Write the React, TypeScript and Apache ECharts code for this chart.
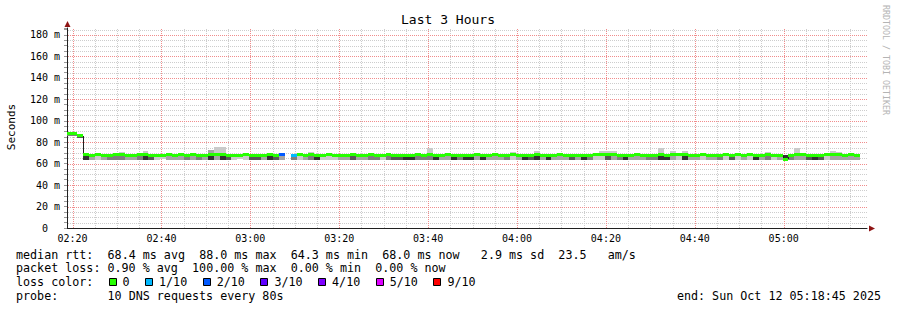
import React, { useEffect, useRef } from 'react';
import * as echarts from 'echarts';

// ---------------- data ----------------
const TITLE = 'Last 3 Hours';
const Y_NAME = 'Seconds';
const WATERMARK = 'RRDTOOL / TOBI OETIKER';

// x values are minutes after midnight
const X_START = 138.75; // 02:18:45
const X_END = 318.75; // 05:18:45
const FIRST_STEP_START = 138 + 25 / 60; // 02:18:25 (rrd step boundary)
const STEP_MINUTES = 80 / 60; // 80 s step
const Y_MAX = 186.5; // ms

const X_TICK_VALUES = [140, 160, 180, 200, 220, 240, 260, 280, 300];
const X_TICK_LABELS = ['02:20', '02:40', '03:00', '03:20', '03:40', '04:00', '04:20', '04:40', '05:00'];
const Y_TICK_VALUES = [0, 20, 40, 60, 80, 100, 120, 140, 160, 180];
const Y_TICK_LABELS = ['0', '20 m', '40 m', '60 m', '80 m', '100 m', '120 m', '140 m', '160 m', '180 m'];

// grid: vertical every 5 min (major every 20 min), horizontal every 5 ms (major every 20 ms)
const X_MINOR_GRID = [
  145, 150, 155, 165, 170, 175, 185, 190, 195, 205, 210, 215, 225, 230, 235, 245, 250, 255,
  265, 270, 275, 285, 290, 295, 305, 310, 315,
];
const X_MAJOR_GRID = [140, 160, 180, 200, 220, 240, 260, 280, 300];
const Y_MINOR_GRID = [
  5, 10, 15, 25, 30, 35, 45, 50, 55, 65, 70, 75, 85, 90, 95, 105, 110, 115,
  125, 130, 135, 145, 150, 155, 165, 170, 175, 185,
];
const Y_MAJOR_GRID = [20, 40, 60, 80, 100, 120, 140, 160, 180];

// median rtt per 80 s step (ms); null = no reply (100 % loss)
const MEDIAN: (number | null)[] = [
  88.0, 87.8, 85.8, 68.1, 68.0, 68.2, 68.0, 67.9, 68.1, 68.3,
  68.0, 67.9, 68.1, 68.2, 68.0, 68.0, 67.9, 68.1, 68.0, 68.2,
  68.0, 68.1, 67.9, 68.0, 68.3, 68.4, 68.2, 68.0, 67.9, 68.0,
  68.1, 68.0, 68.0, 67.9, 68.1, 68.0, 68.1, null, 68.0, 68.1,
  68.0, 68.2, 67.9, 68.0, 68.1, 68.0, 68.0, 67.9, 68.1, 68.0,
  68.0, 68.1, 67.9, 68.0, 68.1, 68.0, 67.9, 68.0, 67.9, 68.1,
  68.0, 68.3, 67.9, 68.0, 68.1, 67.9, 68.0, 67.9, 68.0, 68.1,
  67.9, 68.0, 68.1, 68.0, 68.0, 68.2, 68.0, 67.9, 68.0, 68.1,
  68.0, 67.9, 68.0, 68.1, 68.0, 67.9, 68.0, 67.9, 68.0, 68.1,
  68.2, 68.1, 68.2, 68.0, 67.9, 68.0, 68.1, 68.0, 68.0, 68.0,
  68.3, 68.0, 68.2, 68.1, 68.1, 68.0, 68.0, 68.1, 68.0, 68.0,
  67.9, 68.1, 67.9, 68.1, 68.0, 68.1, 67.9, 68.0, 68.2, 68.0,
  67.4, 64.3, 68.0, 68.3, 68.1, 67.9, 67.9, 68.0, 68.1, 68.2,
  68.1, 68.0, 68.1, 68.0,
];

// lost pings out of 10 per step
const LOSS = [
  0, 0, 0, 0, 0, 0, 0, 0, 0, 0,
  0, 0, 0, 0, 0, 0, 0, 0, 0, 0,
  0, 0, 0, 0, 0, 0, 0, 0, 0, 0,
  0, 0, 0, 0, 0, 0, 2, 10, 1, 0,
  0, 0, 0, 0, 0, 0, 0, 0, 0, 0,
  0, 0, 0, 0, 0, 0, 0, 0, 0, 0,
  0, 0, 0, 0, 0, 0, 0, 0, 0, 0,
  0, 0, 0, 0, 0, 0, 0, 0, 0, 0,
  0, 0, 0, 0, 0, 0, 0, 0, 0, 0,
  0, 0, 0, 0, 0, 0, 0, 0, 0, 0,
  0, 0, 0, 0, 0, 0, 0, 0, 0, 0,
  0, 0, 0, 0, 0, 0, 0, 0, 0, 0,
  0, 0, 0, 0, 0, 0, 0, 0, 0, 0,
  0, 0, 0, 0,
];

// fastest ping per step (ms)
const SMOKE_MIN: (number | null)[] = [
  85.6, 85.6, 83.9, 63.4, 63.6, 63.8, 63.5, 63.5, 63.4, 63.6,
  63.5, 63.7, 63.5, 63.3, 63.4, 63.8, 63.9, 63.6, 63.5, 63.6,
  63.5, 63.6, 63.5, 63.7, 63.4, 63.6, 63.3, 63.4, 63.8, 64.0,
  63.8, 63.4, 63.5, 63.6, 63.3, 63.5, 63.6, null, 63.5, 63.8,
  63.6, 63.5, 63.3, 63.7, 63.8, 63.8, 63.6, 63.5, 63.4, 63.6,
  63.5, 63.5, 63.4, 63.8, 63.5, 63.4, 63.5, 63.3, 63.4, 63.5,
  63.6, 63.5, 63.3, 63.6, 63.6, 63.3, 63.5, 63.4, 63.3, 63.6,
  63.4, 63.6, 63.5, 63.6, 63.5, 63.8, 63.6, 63.3, 63.4, 63.3,
  63.6, 63.4, 63.5, 63.6, 63.5, 63.4, 63.6, 63.3, 63.5, 63.8,
  63.8, 63.4, 63.6, 63.5, 63.3, 63.6, 63.5, 63.6, 63.5, 63.5,
  63.3, 63.4, 63.6, 63.8, 63.3, 63.5, 63.6, 63.8, 63.6, 63.5,
  63.5, 63.8, 63.4, 63.8, 63.6, 63.8, 63.3, 63.6, 63.5, 63.8,
  63.5, 63.2, 63.5, 63.6, 63.6, 63.4, 63.3, 63.4, 63.8, 63.6,
  63.6, 63.5, 63.6, 63.5,
];

// slowest ping per step (ms)
const SMOKE_MAX: (number | null)[] = [
  89.2, 89.0, 87.0, 68.8, 68.8, 68.8, 68.8, 68.8, 68.8, 71.0,
  68.8, 68.8, 68.8, 72.0, 68.8, 68.8, 68.8, 68.8, 68.8, 68.8,
  68.8, 68.8, 68.8, 68.8, 72.8, 75.6, 75.6, 68.8, 68.8, 68.8,
  68.8, 68.8, 68.8, 68.8, 68.8, 68.8, 68.8, null, 68.8, 68.8,
  68.8, 71.0, 68.8, 68.8, 68.8, 68.8, 68.8, 68.8, 68.8, 68.8,
  68.8, 68.8, 68.8, 68.8, 68.8, 68.8, 68.8, 68.8, 68.8, 68.8,
  68.8, 75.0, 68.8, 68.8, 68.8, 68.8, 68.8, 68.8, 68.8, 68.8,
  68.8, 68.8, 68.8, 68.8, 68.8, 71.0, 68.8, 68.8, 68.8, 72.0,
  68.8, 68.8, 68.8, 68.8, 68.8, 68.8, 68.8, 68.8, 68.8, 68.8,
  72.0, 72.0, 72.0, 68.8, 68.8, 68.8, 68.8, 68.8, 68.8, 68.8,
  74.6, 68.8, 72.0, 68.8, 72.0, 68.8, 68.8, 68.8, 68.8, 68.8,
  68.8, 68.8, 68.8, 68.8, 68.8, 68.8, 68.8, 68.8, 71.0, 68.8,
  68.8, 68.3, 68.8, 75.0, 68.8, 68.8, 68.8, 68.8, 68.8, 72.0,
  71.0, 68.8, 68.8, 68.8,
];

// how many pings lie clearly below / above the median (smoke density, 0..5)
const LOW_DENSITY = [
  3, 3, 4, 5, 2, 1, 2, 3, 3, 3,
  2, 2, 3, 5, 4, 1, 1, 2, 2, 2,
  3, 2, 3, 2, 5, 2, 5, 4, 1, 1,
  1, 4, 4, 2, 5, 4, 2, 0, 3, 1,
  2, 3, 5, 1, 1, 1, 2, 2, 4, 2,
  2, 3, 3, 1, 3, 4, 4, 5, 5, 3,
  3, 3, 5, 2, 2, 5, 3, 5, 5, 2,
  5, 2, 2, 2, 3, 1, 2, 5, 4, 5,
  2, 5, 2, 2, 2, 4, 2, 5, 3, 1,
  1, 4, 2, 3, 5, 2, 2, 2, 3, 3,
  5, 5, 2, 1, 5, 2, 2, 1, 2, 2,
  3, 1, 4, 1, 2, 1, 5, 2, 3, 1,
  2, 0, 3, 2, 2, 4, 5, 4, 1, 2,
  2, 2, 2, 2,
];
const HIGH_DENSITY = [
  1, 1, 1, 1, 1, 1, 1, 1, 1, 1,
  1, 1, 1, 1, 1, 1, 1, 1, 1, 1,
  1, 1, 1, 1, 2, 1, 1, 1, 1, 1,
  1, 1, 1, 1, 1, 1, 1, 0, 1, 1,
  1, 1, 1, 1, 1, 1, 1, 1, 1, 1,
  1, 1, 1, 1, 1, 1, 1, 1, 1, 1,
  1, 1, 1, 1, 1, 1, 1, 1, 1, 1,
  1, 1, 1, 1, 1, 1, 1, 1, 1, 1,
  1, 1, 1, 1, 1, 1, 1, 1, 1, 1,
  1, 1, 1, 1, 1, 1, 1, 1, 1, 1,
  1, 1, 1, 1, 1, 1, 1, 1, 1, 1,
  1, 1, 1, 1, 1, 1, 1, 1, 1, 1,
  1, 5, 1, 1, 1, 1, 1, 1, 1, 1,
  1, 1, 1, 1,
];

const LOSS_LEGEND = ['0', '1/10', '2/10', '3/10', '4/10', '5/10', '9/10'];
const LOSS_COLORS = ['#26ff00', '#00b8ff', '#0059ff', '#5e00ff', '#7e00ff', '#dd00ff', '#ff0000'];

const LEGEND_LINE_1 = 'median rtt:  68.4 ms avg  88.0 ms max  64.3 ms min  68.0 ms now   2.9 ms sd  23.5   am/s';
const LEGEND_LINE_2 = 'packet loss: 0.90 % avg  100.00 % max  0.00 % min  0.00 % now';
const LEGEND_LINE_3 = 'loss color:';
const LEGEND_LINE_4 = 'probe:       10 DNS requests every 80s';
const END_LABEL = 'end: Sun Oct 12 05:18:45 2025';

// ---------------- styling ----------------
const MONO = '"DejaVu Sans Mono", monospace';
const LEGEND_FS = 11.7;
const CHAR_W = LEGEND_FS * 0.602;
const LEGEND_X = 16;
const ROW_Y = [254.5, 268.3, 282.2, 296.0];
const MAJOR = '#f08c8c';
const MINOR = '#cdcdcd';
const ARROW = '#8f1414';
const SMOKE_SHADES = ['#ffffff', '#cacaca', '#a4a4a4', '#7e7e7e', '#585858', '#323232'];

const stepStart = (k: number) => FIRST_STEP_START + k * STEP_MINUTES;
const lossColor = (n: number) => LOSS_COLORS[n <= 4 ? n : n <= 8 ? 5 : 6];

function plainText(text: string, x: number, y: number, font: string, align: string, fill = '#000', rotation = 0) {
  return {
    type: 'text', x, y, rotation, silent: true,
    style: { text, font, fill, align, verticalAlign: 'middle', textAlign: align, textVerticalAlign: 'middle' },
  };
}

function textSegments(line: string, row: number) {
  const out: any[] = [];
  const re = /\S+(?: \S+)*/g;
  let m: RegExpExecArray | null;
  while ((m = re.exec(line))) {
    out.push(plainText(m[0], LEGEND_X + m.index * CHAR_W, ROW_Y[row], `${LEGEND_FS}px ${MONO}`, 'left'));
  }
  return out;
}

function buildGraphics() {
  const g: any[] = [];
  g.push(plainText(TITLE, 448, 19, `13px ${MONO}`, 'center'));
  g.push(plainText(Y_NAME, 11, 127, `11px ${MONO}`, 'center', '#000', Math.PI / 2));
  g.push(plainText(WATERMARK, 886, 60, `8.3px ${MONO}`, 'center', '#b4b4b4', -Math.PI / 2));
  // axis arrow heads
  g.push({ type: 'polygon', silent: true, shape: { points: [[67.5, 21], [64.5, 27], [70.5, 27]] }, style: { fill: ARROW } });
  g.push({ type: 'polygon', silent: true, shape: { points: [[875, 228.5], [869, 225.5], [869, 231.5]] }, style: { fill: ARROW } });
  g.push(...textSegments(LEGEND_LINE_1, 0));
  g.push(...textSegments(LEGEND_LINE_2, 1));
  g.push(...textSegments(LEGEND_LINE_3, 2));
  g.push(...textSegments(LEGEND_LINE_4, 3));
  let sx = 108.5;
  LOSS_LEGEND.forEach((label, i) => {
    g.push({
      type: 'rect', silent: true,
      shape: { x: Math.round(sx) + 0.5, y: 278.5, width: 7, height: 7 },
      style: { fill: LOSS_COLORS[i], stroke: '#000', lineWidth: 1 },
    });
    const tx = sx + 14;
    g.push(plainText(label, tx, ROW_Y[2], `${LEGEND_FS}px ${MONO}`, 'left'));
    sx = tx + label.length * CHAR_W + 15.5;
  });
  g.push(plainText(END_LABEL, 881, ROW_Y[3], `${LEGEND_FS}px ${MONO}`, 'right'));
  return g;
}

function xLabel(v: number) {
  const i = X_TICK_VALUES.findIndex((t) => Math.abs(t - v) < 1e-6);
  return i >= 0 ? X_TICK_LABELS[i] : '';
}
function yLabel(v: number) {
  const i = Y_TICK_VALUES.findIndex((t) => Math.abs(t - v) < 1e-6);
  if (i < 0) return '';
  return Y_TICK_VALUES[i] === 0 ? `{z|${Y_TICK_LABELS[i]}}` : `{a|${Y_TICK_LABELS[i]}}`;
}

// a custom series that draws dotted grid lines at the given axis values (as 1px dots)
function gridSeries(name: string, values: number[], vertical: boolean, color: string, z: number) {
  return {
    type: 'custom', name, xAxisIndex: 0, yAxisIndex: 0, silent: true,
    encode: { x: 0, y: 1 },
    data: values.map((v) => (vertical ? [v, 0] : [X_START, v])),
    renderItem: (params: any, api: any) => {
      const v = values[params.dataIndex];
      const children: any[] = [];
      if (vertical) {
        const a = api.coord([v, 0]);
        const b = api.coord([v, Y_MAX]);
        const x = Math.round(a[0]);
        for (let y = Math.round(a[1]) - 1; y >= Math.round(b[1]); y -= 2) {
          children.push({ type: 'rect', shape: { x, y, width: 1, height: 1 }, style: { fill: color } });
        }
      } else {
        const a = api.coord([X_START, v]);
        const b = api.coord([X_END, v]);
        const y = Math.round(a[1]);
        for (let x = Math.round(a[0]) + 1; x < Math.round(b[0]); x += 2) {
          children.push({ type: 'rect', shape: { x, y, width: 1, height: 1 }, style: { fill: color } });
        }
      }
      return { type: 'group', children };
    },
    z,
  };
}

export default function App() {
  const ref = useRef<HTMLDivElement>(null);
  useEffect(() => {
    if (!ref.current) return;
    const chart = echarts.init(ref.current, null, { renderer: 'svg' });
    const stepData = MEDIAN.map((m, k) => [stepStart(k), stepStart(k + 1), m == null ? 0 : m]);

    const option: any = {
      animation: false,
      backgroundColor: '#ffffff',
      grid: { left: 67, right: 30, top: 28, bottom: 82, containLabel: false, outerBoundsMode: 'none' },
      xAxis: {
        type: 'value', min: X_START, max: X_END, interval: 1.25, position: 'bottom',
        axisLine: { show: true, onZero: false, lineStyle: { color: '#202020', width: 1 } },
        axisTick: { show: false },
        axisLabel: { show: true, margin: 5, fontFamily: MONO, fontSize: 10, color: '#000', formatter: xLabel },
        splitLine: { show: false },
        minorSplitLine: { show: false },
        splitArea: { show: false },
      },
      yAxis: {
        type: 'value', min: 0, max: Y_MAX, interval: 5, position: 'left',
        axisLine: { show: true, onZero: false, lineStyle: { color: '#202020', width: 1 } },
        axisTick: { show: true, length: 3, lineStyle: { color: '#999' } },
        axisLabel: {
          show: true, margin: 7, fontFamily: MONO, fontSize: 10, color: '#000', formatter: yLabel,
          rich: {
            a: { fontFamily: MONO, fontSize: 10, color: '#000' },
            z: { fontFamily: MONO, fontSize: 10, color: '#000', padding: [0, 12, 0, 0] },
          },
        },
        splitLine: { show: false },
        splitArea: { show: false },
      },
      series: [
        gridSeries('grid-x-minor', X_MINOR_GRID, true, MINOR, 1),
        gridSeries('grid-y-minor', Y_MINOR_GRID, false, MINOR, 1),
        gridSeries('grid-x-major', X_MAJOR_GRID, true, MAJOR, 1),
        gridSeries('grid-y-major', Y_MAJOR_GRID, false, MAJOR, 1),
        {
          type: 'custom', name: 'smoke', xAxisIndex: 0, yAxisIndex: 0, silent: true,
          encode: { x: [0, 1], y: 2 },
          data: stepData,
          renderItem: (params: any, api: any) => {
            const k = params.dataIndex;
            const lo = SMOKE_MIN[k];
            const hi = SMOKE_MAX[k];
            const med = MEDIAN[k];
            if (lo == null || hi == null || med == null) return null;
            const t0 = Math.max(stepStart(k), X_START);
            const t1 = Math.min(stepStart(k + 1), X_END);
            const L = Math.round(api.coord([t0, med])[0]);
            const R = Math.round(api.coord([t1, med])[0]);
            const yMed = Math.round(api.coord([t0, med])[1]);
            const yLo = Math.round(api.coord([t0, lo])[1]);
            const yHi = Math.round(api.coord([t0, hi])[1]);
            const children: any[] = [];
            if (LOW_DENSITY[k] > 0 && yLo > yMed) {
              children.push({ type: 'rect', shape: { x: L, y: yMed, width: R - L, height: yLo - yMed }, style: { fill: SMOKE_SHADES[LOW_DENSITY[k]] } });
            }
            if (HIGH_DENSITY[k] > 0 && yMed > yHi) {
              children.push({ type: 'rect', shape: { x: L, y: yHi, width: R - L, height: yMed - yHi }, style: { fill: SMOKE_SHADES[HIGH_DENSITY[k]] } });
            }
            return { type: 'group', children };
          },
          z: 2,
        },
        {
          type: 'custom', name: 'median', xAxisIndex: 0, yAxisIndex: 0, silent: true,
          encode: { x: [0, 1], y: 2 },
          data: stepData,
          renderItem: (params: any, api: any) => {
            const k = params.dataIndex;
            const med = MEDIAN[k];
            if (med == null) return null;
            const t0 = Math.max(stepStart(k), X_START);
            const t1 = Math.min(stepStart(k + 1), X_END);
            const p0 = api.coord([t0, med]);
            const L = Math.round(p0[0]);
            const R = Math.round(api.coord([t1, med])[0]);
            const y = p0[1];
            const children: any[] = [];
            const prev = k > 0 ? MEDIAN[k - 1] : null;
            if (prev != null) {
              const yp = api.coord([t0, prev])[1];
              if (Math.abs(yp - y) >= 1) {
                children.push({ type: 'line', shape: { x1: L + 0.5, y1: Math.round(yp), x2: L + 0.5, y2: Math.round(y) }, style: { stroke: '#202020', lineWidth: 1 } });
              }
            }
            children.push({ type: 'rect', shape: { x: L, y: Math.round(y - 1.5), width: R - L, height: 3 }, style: { fill: lossColor(LOSS[k]) } });
            return { type: 'group', children };
          },
          z: 3,
        },
      ],
      graphic: buildGraphics(),
    };
    chart.setOption(option);
    return () => chart.dispose();
  }, []);
  return <div ref={ref} style={{ position: 'absolute', left: 0, top: 0, width: 897, height: 310 }} />;
}
